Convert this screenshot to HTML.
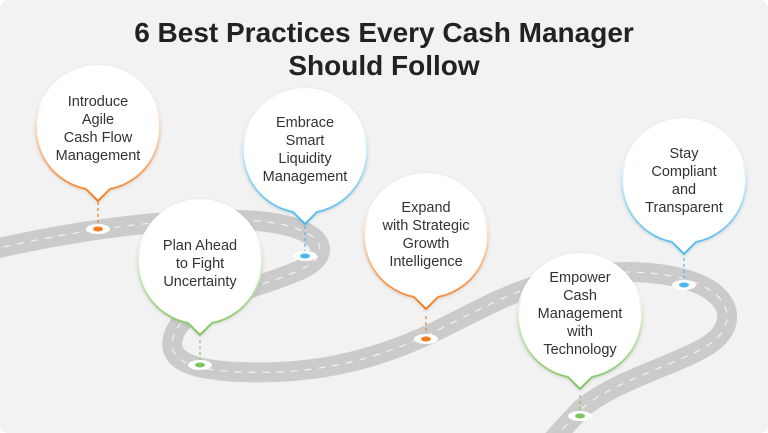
<!DOCTYPE html>
<html><head><style>
html,body{margin:0;padding:0;background:#fff;}
svg{display:block;}
text{font-family:"Liberation Sans",sans-serif;}
</style></head><body>
<svg width="768" height="433" viewBox="0 0 768 433" xmlns="http://www.w3.org/2000/svg">
<defs>
<linearGradient id="go" x1="0" y1="0" x2="0" y2="1"><stop offset="0.25" stop-color="#fff"/><stop offset="1" stop-color="#f47c20"/></linearGradient>
<linearGradient id="gb" x1="0" y1="0" x2="0" y2="1"><stop offset="0.25" stop-color="#fff"/><stop offset="1" stop-color="#4ab8ee"/></linearGradient>
<linearGradient id="gg" x1="0" y1="0" x2="0" y2="1"><stop offset="0.25" stop-color="#fff"/><stop offset="1" stop-color="#7cc55a"/></linearGradient>
<filter id="sh" x="-20%" y="-20%" width="140%" height="140%"><feDropShadow dx="0" dy="1" stdDeviation="1.5" flood-color="#000" flood-opacity="0.12"/></filter>
</defs>
<rect x="0" y="0" width="768" height="433" rx="8" fill="#f2f2f2"/>
<text x="384" y="42" text-anchor="middle" font-size="28" font-weight="bold" fill="#222">6 Best Practices Every Cash Manager</text>
<text x="384" y="75" text-anchor="middle" font-size="28" font-weight="bold" fill="#222">Should Follow</text>

<g fill="none">
<path d="M -10,250 C 60,234 150,218 240,220 C 320,222 340,252 300,270 C 255,290 190,300 175,332 C 163,360 190,370 240,372 C 310,375 370,362 430,334 C 500,300 540,272 630,272 C 720,274 740,310 720,335 C 700,360 620,375 580,410 L 548,445" stroke="#cbcbcb" stroke-width="20"/>
<path d="M -10,250 C 60,234 150,218 240,220 C 320,222 340,252 300,270 C 255,290 190,300 175,332 C 163,360 190,370 240,372 C 310,375 370,362 430,334 C 500,300 540,272 630,272 C 720,274 740,310 720,335 C 700,360 620,375 580,410 L 548,445" stroke="#f2f2f2" stroke-width="1.2" stroke-dasharray="7,7"/>
</g>

<g stroke-width="1.2" stroke-dasharray="3,3">
<line x1="98" y1="202" x2="98" y2="228" stroke="#f47c20"/>
<line x1="305" y1="226" x2="305" y2="255" stroke="#4ab8ee"/>
<line x1="200" y1="340" x2="200" y2="364" stroke="#7cc55a"/>
<line x1="426" y1="316" x2="426" y2="338" stroke="#f47c20"/>
<line x1="580" y1="395" x2="580" y2="415" stroke="#7cc55a"/>
<line x1="684" y1="258" x2="684" y2="284" stroke="#4ab8ee"/>
</g>
<g>
<ellipse cx="98" cy="229" rx="12" ry="5" fill="#fff"/><ellipse cx="98" cy="229" rx="5" ry="2.5" fill="#f47c20"/>
<ellipse cx="305" cy="256" rx="12" ry="5" fill="#fff"/><ellipse cx="305" cy="256" rx="5" ry="2.5" fill="#4ab8ee"/>
<ellipse cx="200" cy="365" rx="12" ry="5" fill="#fff"/><ellipse cx="200" cy="365" rx="5" ry="2.5" fill="#7cc55a"/>
<ellipse cx="426" cy="339" rx="12" ry="5" fill="#fff"/><ellipse cx="426" cy="339" rx="5" ry="2.5" fill="#f47c20"/>
<ellipse cx="580" cy="416" rx="12" ry="5" fill="#fff"/><ellipse cx="580" cy="416" rx="5" ry="2.5" fill="#7cc55a"/>
<ellipse cx="684" cy="285" rx="12" ry="5" fill="#fff"/><ellipse cx="684" cy="285" rx="5" ry="2.5" fill="#4ab8ee"/>
</g>

<g filter="url(#sh)" stroke-width="2">
<g transform="translate(98,130)"><path d="M -12,59 A 62 62 0 1 1 12,59 L 0,71 Z" fill="#fff" stroke="url(#go)"/></g>
<g transform="translate(305,153)"><path d="M -12,59 A 62 62 0 1 1 12,59 L 0,71 Z" fill="#fff" stroke="url(#gb)"/></g>
<g transform="translate(200,264)"><path d="M -12,59 A 62 62 0 1 1 12,59 L 0,71 Z" fill="#fff" stroke="url(#gg)"/></g>
<g transform="translate(426,238)"><path d="M -12,59 A 62 62 0 1 1 12,59 L 0,71 Z" fill="#fff" stroke="url(#go)"/></g>
<g transform="translate(580,318)"><path d="M -12,59 A 62 62 0 1 1 12,59 L 0,71 Z" fill="#fff" stroke="url(#gg)"/></g>
<g transform="translate(684,183)"><path d="M -12,59 A 62 62 0 1 1 12,59 L 0,71 Z" fill="#fff" stroke="url(#gb)"/></g>
</g>

<g font-size="14.5" fill="#333" text-anchor="middle">
<text x="98" y="106">Introduce</text><text x="98" y="124">Agile</text><text x="98" y="142">Cash Flow</text><text x="98" y="160">Management</text>
<text x="305" y="127">Embrace</text><text x="305" y="145">Smart</text><text x="305" y="163">Liquidity</text><text x="305" y="181">Management</text>
<text x="200" y="250">Plan Ahead</text><text x="200" y="268">to Fight</text><text x="200" y="286">Uncertainty</text>
<text x="426" y="212">Expand</text><text x="426" y="230">with Strategic</text><text x="426" y="248">Growth</text><text x="426" y="266">Intelligence</text>
<text x="580" y="282">Empower</text><text x="580" y="300">Cash</text><text x="580" y="318">Management</text><text x="580" y="336">with</text><text x="580" y="354">Technology</text>
<text x="684" y="158">Stay</text><text x="684" y="176">Compliant</text><text x="684" y="194">and</text><text x="684" y="212">Transparent</text>
</g>
</svg>
</body></html>
